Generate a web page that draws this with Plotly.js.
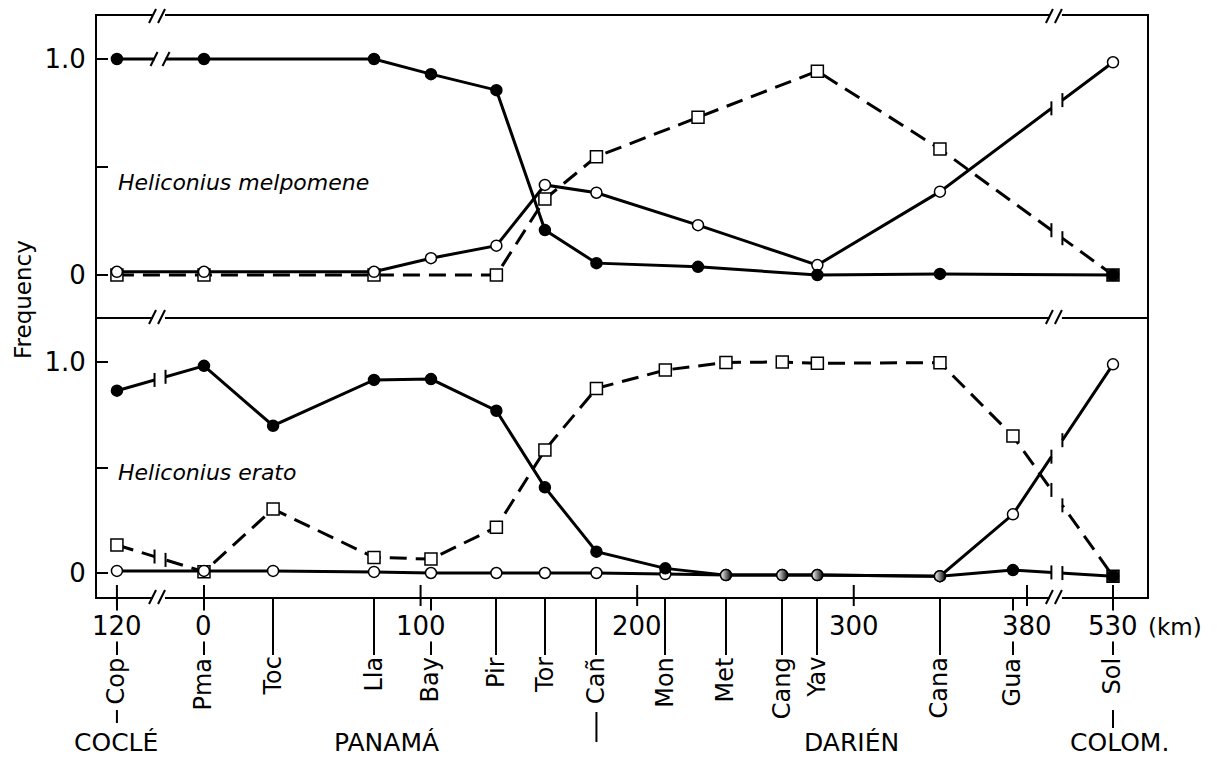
<!DOCTYPE html>
<html><head><meta charset="utf-8">
<script src="https://cdn.plot.ly/plotly-3.0.1.min.js"></script>
<style>html,body{margin:0;padding:0;background:#fff}#chart{width:1217px;height:761px}</style>
</head><body><div id="chart"></div>
<script>
// ---------------- DATA ----------------
// Sites along the transect; position = distance along the drawn (broken) km axis
const sites   = ["Cop","Pma","Toc","Lla","Bay","Pir","Tor","Cañ","Mon","Met","Cang","Yav","Cana","Gua","Sol"];
const sitePos = [-40.2, 0, 31.9, 78.5, 104.8, 135, 157.4, 181.2, 213, 241, 267, 283.2, 339.8, 373.5, 419.7];

// km scale
const kmLabels = ["120","0","100","200","300","380","530"];
const kmPos    = [-40.2, 0, 100, 200, 300, 380, 419.7];

// provinces
const regions = ["COCLÉ","PANAMÁ","DARIÉN","COLOM."];

// Heliconius melpomene (upper panel)
const melpPos    = [-40.2, 0, 78.5, 104.8, 135, 157.4, 181.2, 228.1, 283.2, 339.8, 419.7];
const melpFilled = [1.0, 1.0, 1.0, 0.93, 0.856, 0.208, 0.055, 0.038, 0.0, 0.005, 0.0];
const melpOpen   = [0.015, 0.015, 0.015, 0.078, 0.136, 0.417, 0.381, 0.231, 0.046, 0.386, 0.985];
const melpSquare = [0.0, 0.0, 0.0, null, 0.0, 0.352, 0.548, 0.73, 0.944, 0.583, 0.0];

// Heliconius erato (lower panel), at sitePos
const eratoFilled = [0.864, 0.982, 0.698, 0.915, 0.919, 0.769, 0.406, 0.101, 0.022, -0.01, -0.01, -0.01, -0.015, 0.014, -0.015];
const eratoOpen   = [0.01, 0.01, 0.01, 0.005, 0.0, 0.0, 0.0, 0.0, -0.005, -0.01, -0.01, -0.01, -0.015, 0.278, 0.989];
const eratoSquare = [0.133, 0.006, 0.303, 0.074, 0.066, 0.217, 0.583, 0.875, 0.962, 0.998, 1.0, 0.994, 0.997, 0.649, -0.015];

// ---------------- LAYOUT CONSTANTS ----------------
const W = 1217, H = 761;
const PLOT = {l: 97, r: 1147, t: 16, b: 597};
const X_RANGE = [-49.4, 435.4];
const Y_UP = [-0.1944, 1.1993];
const Y_LO = [-0.1137, 1.2133];
const SPLIT = 280 / 581;
const BREAKS = [-20.3, 393.8];          // axis breaks (position units)
const FONT = "DejaVu Sans";
const halfSites = ["Met","Cang","Yav","Cana"];   // half-filled markers (erato)

const pxX = px => (px - PLOT.l) / (PLOT.r - PLOT.l);
const pxY = py => (PLOT.b - py) / (PLOT.b - PLOT.t);
const posX = v => (v - X_RANGE[0]) / (X_RANGE[1] - X_RANGE[0]);
const xPxU = (PLOT.r - PLOT.l) / (X_RANGE[1] - X_RANGE[0]);
const yPxUp = (PLOT.b - PLOT.t) * (1 - SPLIT) / (Y_UP[1] - Y_UP[0]);
const yPxLo = (PLOT.b - PLOT.t) * SPLIT / (Y_LO[1] - Y_LO[0]);

const DASH = "17px,9px";
function sq(xs, ys, xa, ya) {
  return {x: xs, y: ys, xaxis: xa, yaxis: ya, type: "scatter", mode: "lines+markers", connectgaps: true,
    line: {color: "black", width: 3, dash: DASH},
    marker: {symbol: "square", size: 12,
      color: ys.map((v, i) => i === ys.length - 1 ? "#333" : "white"),
      line: {color: "black", width: 1.5}},
    hoverinfo: "skip", showlegend: false};
}
function openC(xs, ys, xa, ya) {
  return {x: xs, y: ys, xaxis: xa, yaxis: ya, type: "scatter", mode: "lines+markers",
    line: {color: "black", width: 3},
    marker: {symbol: "circle", size: 11, color: "white", line: {color: "black", width: 1.5}},
    hoverinfo: "skip", showlegend: false};
}
function fillC(xs, ys, xa, ya, names) {
  const half = names ? names.map(n => halfSites.includes(n)) : xs.map(() => false);
  return {x: xs, y: ys, xaxis: xa, yaxis: ya, type: "scatter", mode: "lines+markers",
    line: {color: "black", width: 3},
    marker: {symbol: "circle", size: 11,
      color: half.map(h => h ? "white" : "black"),
      gradient: {type: half.map(h => h ? "horizontal" : "none"), color: "black"},
      line: {color: "black", width: 1.5}},
    hoverinfo: "skip", showlegend: false};
}

const traces = [
  sq(melpPos, melpSquare, "x2", "y2"),
  openC(melpPos, melpOpen, "x2", "y2"),
  fillC(melpPos, melpFilled, "x2", "y2", null),
  sq(sitePos, eratoSquare, "x", "y"),
  openC(sitePos, eratoOpen, "x", "y"),
  fillC(sitePos, eratoFilled, "x", "y", sites)
];

// ---------------- SHAPES ----------------
const shapes = [];
function lineBreak(xs, ys, bx, xref, yref, yPx, slash) {
  const idx = [];
  xs.forEach((x, i) => { if (ys[i] !== null) idx.push(i); });
  let a = null, b = null;
  for (let k = 0; k < idx.length - 1; k++) {
    if (xs[idx[k]] <= bx && bx <= xs[idx[k + 1]]) { a = idx[k]; b = idx[k + 1]; break; }
  }
  if (a === null) return;
  const t = (bx - xs[a]) / (xs[b] - xs[a]);
  const by = ys[a] + t * (ys[b] - ys[a]);
  const s = ((ys[b] - ys[a]) * yPx) / ((xs[b] - xs[a]) * xPxU);
  const g = 5.5, h = 7;
  const base = {xref, yref, xsizemode: "pixel", ysizemode: "pixel", xanchor: bx, yanchor: by, layer: "above", type: "line"};
  shapes.push({...base, x0: -g, y0: -g * s, x1: g, y1: g * s, line: {color: "white", width: 8}});
  if (slash) {
    shapes.push({...base, x0: -g - 4, y0: -g * s - h, x1: -g + 3, y1: -g * s + h, line: {color: "black", width: 2}});
    shapes.push({...base, x0: g - 3, y0: g * s - h, x1: g + 4, y1: g * s + h, line: {color: "black", width: 2}});
  } else {
    shapes.push({...base, x0: -g, y0: -g * s - h, x1: -g, y1: -g * s + h, line: {color: "black", width: 2}});
    shapes.push({...base, x0: g, y0: g * s - h, x1: g, y1: g * s + h, line: {color: "black", width: 2}});
  }
}
// upper panel breaks
lineBreak(melpPos, melpFilled, BREAKS[0], "x2", "y2", yPxUp, true);
lineBreak(melpPos, melpOpen, BREAKS[1], "x2", "y2", yPxUp);
lineBreak(melpPos, melpSquare, BREAKS[1], "x2", "y2", yPxUp);
// lower panel breaks
lineBreak(sitePos, eratoFilled, BREAKS[0], "x", "y", yPxLo);
lineBreak(sitePos, eratoSquare, BREAKS[0], "x", "y", yPxLo);
lineBreak(sitePos, eratoFilled, BREAKS[1], "x", "y", yPxLo);
lineBreak(sitePos, eratoOpen, BREAKS[1], "x", "y", yPxLo);
lineBreak(sitePos, eratoSquare, BREAKS[1], "x", "y", yPxLo);

// frame "//" breaks
[1, SPLIT, 0].forEach(yp => {
  BREAKS.forEach(bx => {
    const base = {xref: "paper", yref: "paper", xsizemode: "pixel", ysizemode: "pixel",
      xanchor: posX(bx), yanchor: yp, layer: "above", type: "line"};
    shapes.push({...base, x0: -7, y0: 0, x1: 5, y1: 0, line: {color: "white", width: 6}});
    shapes.push({...base, x0: -11, y0: -7, x1: -4, y1: 7, line: {color: "black", width: 2}});
    shapes.push({...base, x0: -2, y0: -7, x1: 5, y1: 7, line: {color: "black", width: 2}});
  });
});

// inner km ticks on the bottom axis
kmPos.forEach(v => {
  shapes.push({type: "line", xref: "paper", yref: "paper", x0: posX(v), x1: posX(v),
    y0: pxY(PLOT.b + 9), y1: pxY(PLOT.b - 12), line: {color: "black", width: 2}});
});
// extension lines below some site labels
[["Cop", 710, 723], ["Cañ", 712, 742], ["Sol", 710, 728]].forEach(([n, a, b]) => {
  const v = sitePos[sites.indexOf(n)];
  shapes.push({type: "line", xref: "paper", yref: "paper", x0: posX(v), x1: posX(v),
    y0: pxY(a), y1: pxY(b), line: {color: "black", width: 2}});
});

// ---------------- ANNOTATIONS ----------------
const ann = [];
kmLabels.forEach((t, i) => {
  ann.push({text: t, xref: "paper", yref: "paper", x: posX(kmPos[i]), y: pxY(626),
    xanchor: "center", yanchor: "middle", showarrow: false, bgcolor: "white", borderpad: 0,
    font: {family: FONT, size: 26, color: "black"}});
});
ann.push({text: "(km)", xref: "paper", yref: "paper", x: pxX(1146), y: pxY(627),
  xanchor: "left", yanchor: "middle", showarrow: false, font: {family: FONT, size: 23, color: "black"}});
sites.forEach((s, i) => {
  ann.push({text: s, xref: "paper", yref: "paper", x: posX(sitePos[i]), y: pxY(656),
    xanchor: "center", yanchor: "top", textangle: -90, showarrow: false, borderpad: 0,
    font: {family: FONT, size: 24, color: "black"}});
});
const regionPx = [116, 386, 851, 1119];
regions.forEach((r, i) => {
  ann.push({text: r, xref: "paper", yref: "paper", x: pxX(regionPx[i]), y: pxY(742),
    xanchor: "center", yanchor: "middle", showarrow: false,
    font: {family: FONT, size: 25, color: "black"}});
});
ann.push({text: "Heliconius melpomene", xref: "paper", yref: "paper", x: pxX(116), y: pxY(182),
  xanchor: "left", yanchor: "middle", showarrow: false,
  font: {family: FONT, size: 22, style: "italic", color: "black"}});
ann.push({text: "Heliconius erato", xref: "paper", yref: "paper", x: pxX(116), y: pxY(472),
  xanchor: "left", yanchor: "middle", showarrow: false,
  font: {family: FONT, size: 22, style: "italic", color: "black"}});
ann.push({text: "Frequency", xref: "paper", yref: "paper", x: pxX(23), y: pxY(300),
  xanchor: "center", yanchor: "middle", textangle: -90, showarrow: false,
  font: {family: FONT, size: 23, color: "black"}});

// ---------------- AXES ----------------
const yCommon = {
  showgrid: false, zeroline: false, showline: true, mirror: true, linecolor: "black", linewidth: 2,
  ticks: "inside", ticklen: 11, tickwidth: 2, tickcolor: "black",
  tickvals: [0, 0.5, 1], ticktext: ["0", "", "1.0"], ticklabelstandoff: 4,
  tickfont: {family: FONT, size: 26, color: "black"}, fixedrange: true
};
const layout = {
  width: W, height: H,
  margin: {l: PLOT.l, r: W - PLOT.r, t: PLOT.t, b: H - PLOT.b, pad: 0},
  paper_bgcolor: "white", plot_bgcolor: "white",
  showlegend: false,
  xaxis: {domain: [0, 1], range: X_RANGE, anchor: "y", showgrid: false, zeroline: false,
    showline: true, mirror: false, linecolor: "black", linewidth: 2,
    ticks: "outside", ticklen: 56, tickwidth: 2, tickcolor: "black",
    tickvals: sitePos, showticklabels: false, fixedrange: true},
  xaxis2: {domain: [0, 1], range: X_RANGE, anchor: "y2", showgrid: false, zeroline: false,
    showline: true, mirror: true, linecolor: "black", linewidth: 2, ticks: "", showticklabels: false, fixedrange: true},
  yaxis: {...yCommon, domain: [0, SPLIT], range: Y_LO, anchor: "x"},
  yaxis2: {...yCommon, domain: [SPLIT, 1], range: Y_UP, anchor: "x2"},
  shapes: shapes,
  annotations: ann
};

Plotly.newPlot("chart", traces, layout, {displayModeBar: false, staticPlot: true});
</script></body></html>
